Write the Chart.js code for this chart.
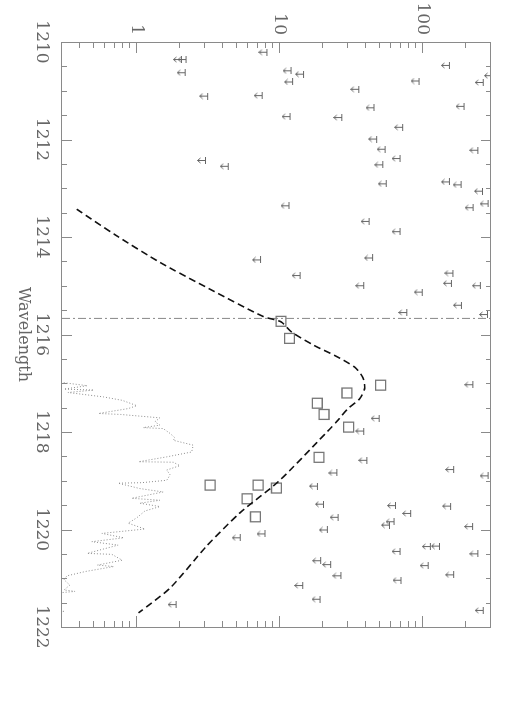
<!DOCTYPE html>
<html>
<head>
<meta charset="utf-8">
<script src="https://cdn.jsdelivr.net/npm/chart.js@4.4.1/dist/chart.umd.min.js"></script>
<style>
html, body { margin: 0; padding: 0; background: #fff; overflow: hidden; }
/* chart is drawn landscape and turned a quarter turn clockwise */
#page { position: absolute; left: 0; top: 0; width: 713px; height: 525px;
        transform-origin: 0 0; transform: translate(525px, 0) rotate(90deg); }
</style>
</head>
<body>
<div id="page"><canvas id="lyaChart" width="713" height="525"></canvas></div>
<script>
// upper limits (arrows)
var limitWave = [1210.21, 1210.36, 1210.36, 1210.48, 1210.59, 1210.63, 1210.66, 1210.69, 1210.80, 1210.82,
    1210.83, 1210.97, 1211.10, 1211.11, 1211.32, 1211.35, 1211.53, 1211.55, 1211.75, 1211.99,
    1212.20, 1212.22, 1212.39, 1212.43, 1212.52, 1212.55, 1212.87, 1212.91, 1212.93, 1213.06,
    1213.32, 1213.36, 1213.40, 1213.68, 1213.89, 1214.43, 1214.47, 1214.74, 1214.79, 1214.95,
    1215.00, 1215.00, 1215.13, 1215.40, 1215.55, 1215.59, 1217.03, 1217.72, 1217.98, 1218.58,
    1218.77, 1218.84, 1218.90, 1219.11, 1219.48, 1219.51, 1219.52, 1219.67, 1219.75, 1219.84,
    1219.91, 1219.94, 1220.01, 1220.09, 1220.17, 1220.34, 1220.35, 1220.45, 1220.50, 1220.64,
    1220.72, 1220.74, 1220.93, 1220.95, 1221.04, 1221.15, 1221.43, 1221.54, 1221.66];
var limitFlux = [8.2, 2.07, 2.23, 155, 12.1, 2.2, 14.8, 310, 95, 12.4,
    267, 36, 7.6, 3.16, 196, 46, 11.9, 27.4, 73, 48,
    55, 245, 70, 3.05, 53, 4.4, 155, 56, 187, 264,
    289, 11.7, 227, 42.5, 70, 45, 7.4, 164, 14.0, 160,
    39, 255, 100, 188, 78, 286, 226, 50, 39, 41,
    166, 25.3, 289, 18.5, 20.4, 65, 158, 83, 25.8, 63.5,
    59, 225, 21.7, 7.95, 5.34, 132, 114, 70, 245, 19.5,
    22.9, 110, 166, 27, 71, 14.6, 19.3, 1.9, 267];

// detections (squares)
var detWave = [1215.73, 1216.08, 1217.04, 1217.20, 1217.41, 1217.64, 1217.90, 1218.52, 1219.09, 1219.09, 1219.15, 1219.37, 1219.74];
var detFlux = [10.2, 11.7, 50.7, 29.5, 18.3, 20.4, 30.3, 18.8, 3.26, 7.06, 9.48, 5.91, 6.76];

// model profile (dashed)
var modelWave = [1213.43, 1213.96, 1214.52, 1215.07, 1215.63, 1215.74, 1215.95, 1216.23, 1216.43, 1216.67, 1216.88,
    1217.11, 1217.32, 1217.52, 1217.76, 1217.98, 1219.01, 1219.66, 1220.34, 1221.20, 1221.71];
var modelFlux = [0.38, 0.71, 1.45, 3.25, 7.64, 10.2, 12.1, 17.5, 24.2, 33.4, 38.1,
    39.2, 36.2, 30.0, 25.5, 21.7, 9.84, 5.26, 3.08, 1.71, 1.03];

// observed spectrum (dotted)
var specWave = [1216.95, 1216.99, 1217.05, 1217.12, 1217.14, 1217.19, 1217.28, 1217.35, 1217.46, 1217.52,
    1217.62, 1217.64, 1217.71, 1217.79, 1217.86, 1217.91, 1217.93, 1218.03, 1218.12, 1218.17,
    1218.27, 1218.41, 1218.51, 1218.61, 1218.62, 1218.69, 1218.78, 1218.88, 1218.99, 1219.04,
    1219.05, 1219.16, 1219.23, 1219.36, 1219.40, 1219.46, 1219.53, 1219.62, 1219.76, 1219.87,
    1219.99, 1220.08, 1220.17, 1220.25, 1220.32, 1220.49, 1220.51, 1220.63, 1220.73, 1220.76,
    1220.86, 1220.95, 1221.03, 1221.14, 1221.24, 1221.27, 1221.34, 1221.60, 1221.68, 1221.72];
var specFlux = [0.2, 0.31, 0.45, 0.31, 0.50, 0.33, 0.585, 0.79, 1.0, 0.87,
    0.54, 0.77, 1.45, 1.34, 1.45, 1.11, 1.53, 1.71, 1.85, 1.80,
    2.48, 2.42, 1.62, 1.03, 1.80, 2.0, 1.62, 1.71, 1.62, 1.08,
    0.74, 1.05, 1.53, 0.92, 1.45, 1.05, 1.45, 1.14, 1.0, 0.87,
    1.14, 0.57, 0.81, 0.485, 0.74, 0.45, 0.67, 0.79, 0.53, 0.69,
    0.44, 0.325, 0.31, 0.34, 0.31, 0.37, 0.2, 0.2, 0.31, 0.2];

var lyaWave = 1215.67;
var waveTicks = [1210, 1212, 1214, 1216, 1218, 1220, 1222];
var fluxTicks = [1, 10, 100];
var waveMin = 1210, waveMax = 1222;
var fluxMin = 0.3, fluxMax = 300;

function toPoints(xs, ys) {
    return xs.map(function(x, i) { return {x: x, y: ys[i]}; });
}

// upper limit symbol: bar at the value, arrow pointing to lower flux
var arrowImg = document.createElement('canvas');
arrowImg.width = 7;
arrowImg.height = 18;
(function() {
    var c = arrowImg.getContext('2d');
    c.strokeStyle = '#666';
    c.lineWidth = 1;
    c.beginPath();
    c.moveTo(0, 9.5); c.lineTo(7, 9.5);
    c.moveTo(3.5, 9.5); c.lineTo(3.5, 17.5);
    c.moveTo(1, 14.5); c.lineTo(3.5, 17.5); c.lineTo(6, 14.5);
    c.stroke();
})();

// frame and inward ticks on all four sides
const frameTicks = {
    id: 'frameTicks',
    afterDatasetsDraw(chart) {
        const ctx = chart.ctx, a = chart.chartArea;
        const xs = chart.scales.x, ys = chart.scales.y;
        ctx.save();
        ctx.strokeStyle = '#8a8a8a';
        ctx.lineWidth = 1;
        ctx.strokeRect(Math.round(a.left) + 0.5, Math.round(a.top) + 0.5,
            Math.round(a.right - a.left), Math.round(a.bottom - a.top));
        ctx.beginPath();
        for (let w = waveMin; w <= waveMax + 1e-6; w += 0.5) {
            const len = (Math.abs(w % 2) < 1e-6) ? 10 : 5;
            const px = Math.round(xs.getPixelForValue(w)) + 0.5;
            ctx.moveTo(px, a.bottom); ctx.lineTo(px, a.bottom - len);
            ctx.moveTo(px, a.top); ctx.lineTo(px, a.top + len);
        }
        [0.1, 1, 10, 100].forEach(function(d) {
            for (let m = 1; m <= 9; m++) {
                const v = m * d;
                if (v < fluxMin - 1e-9 || v > fluxMax + 1e-9) continue;
                const len = (m === 1) ? 11 : 6;
                const py = Math.round(ys.getPixelForValue(v)) + 0.5;
                ctx.moveTo(a.left, py); ctx.lineTo(a.left + len, py);
                ctx.moveTo(a.right, py); ctx.lineTo(a.right - len, py);
            }
        });
        ctx.stroke();
        ctx.restore();
    }
};

Chart.defaults.font.family = "'DejaVu Serif', serif";
Chart.defaults.color = '#666';

const config = {
    type: 'scatter',
    data: {
        datasets: [{
            data: toPoints(specWave, specFlux),
            showLine: true,
            borderColor: '#8c8c8c',
            borderWidth: 1,
            borderDash: [1, 2],
            pointRadius: 0,
            clip: 0
        }, {
            data: toPoints(modelWave, modelFlux),
            showLine: true,
            borderColor: '#111',
            borderWidth: 1.6,
            borderDash: [7, 4],
            tension: 0.25,
            pointRadius: 0,
            clip: 0
        }, {
            data: [{x: lyaWave, y: fluxMin}, {x: lyaWave, y: fluxMax}],
            showLine: true,
            borderColor: '#888',
            borderWidth: 1,
            borderDash: [8, 3, 2, 3],
            pointRadius: 0,
            clip: 0
        }, {
            data: toPoints(detWave, detFlux),
            pointStyle: 'rect',
            pointRadius: 7,
            borderColor: '#777',
            borderWidth: 1.3,
            backgroundColor: 'rgba(0,0,0,0)',
            clip: 0
        }, {
            data: toPoints(limitWave, limitFlux),
            pointStyle: arrowImg,
            pointRadius: 5,
            clip: 0
        }]
    },
    options: {
        responsive: false,
        animation: false,
        events: [],
        layout: { padding: { top: 34, right: 86, left: 0, bottom: 0 } },
        plugins: { legend: { display: false }, tooltip: { enabled: false } },
        scales: {
            x: {
                type: 'linear',
                position: 'bottom',
                min: waveMin,
                max: waveMax,
                grid: { display: false, drawTicks: false },
                border: { display: false },
                afterBuildTicks: function(scale) {
                    scale.ticks = waveTicks.map(function(v) { return {value: v}; });
                },
                afterFit: function(scale) { scale.height = 62; },
                ticks: {
                    padding: 10,
                    maxRotation: 0,
                    font: { size: 17 },
                    callback: function(value) { return String(value); }
                },
                title: {
                    display: true,
                    text: 'Wavelength',
                    font: { size: 16 },
                    padding: { top: 0, bottom: 14 }
                }
            },
            y: {
                type: 'logarithmic',
                position: 'left',
                min: fluxMin,
                max: fluxMax,
                grid: { display: false, drawTicks: false },
                border: { display: false },
                afterBuildTicks: function(scale) {
                    scale.ticks = fluxTicks.map(function(v) { return {value: v}; });
                },
                afterFit: function(scale) { scale.width = 42; },
                ticks: {
                    padding: 7,
                    font: { size: 17 },
                    callback: function(value) { return String(value); }
                }
            }
        }
    },
    plugins: [frameTicks]
};

var lyaChart = new Chart(document.getElementById('lyaChart'), config);
</script>
</body>
</html>
